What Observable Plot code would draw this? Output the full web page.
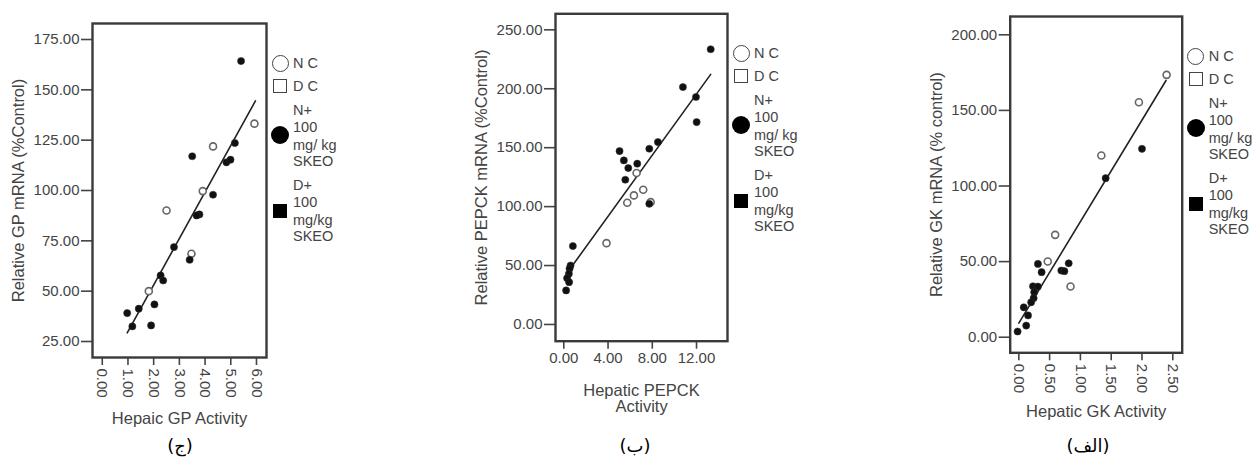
<!DOCTYPE html>
<html>
<head>
<meta charset="utf-8">
<script src="https://cdn.jsdelivr.net/npm/d3@7"></script>
<script src="https://cdn.jsdelivr.net/npm/@observablehq/plot@0.6"></script>
<style>
  html, body { margin: 0; padding: 0; background: #fff; }
  #root { position: relative; width: 1254px; height: 458px; overflow: hidden; font-family: "Liberation Sans", Arial, sans-serif; }
  .panel { position: absolute; top: 0; }
  .lg { position: absolute; color: #444; font-size: 14.5px; line-height: 17px; white-space: nowrap; }
  .sym { position: absolute; box-sizing: border-box; }
  .cap { position: absolute; font-family: "DejaVu Sans", sans-serif; font-size: 18px; color: #000; transform: translateX(-50%); white-space: nowrap; }
</style>
</head>
<body>
<div id="root"></div>
<script>
// ---------- Panel ج : GP ----------
const gpX    = [5.40, 5.92, 4.31, 3.50, 5.16, 4.83, 4.99, 3.91, 4.31, 2.50, 3.78, 3.67, 2.79, 3.47, 3.40, 2.27, 2.37, 1.81, 2.03, 1.42, 0.97, 1.17, 1.90];
const gpY    = [164.3, 133.2, 121.9, 117.0, 123.6, 114.0, 115.3, 99.7, 97.9, 90.1, 88.1, 87.6, 71.9, 68.6, 65.6, 57.8, 55.3, 50.0, 43.4, 41.3, 39.1, 32.5, 33.0];
const gpKind = ["f","o","o","f","f","f","f","o","f","o","f","f","f","o","f","f","f","o","f","f","f","f","f"];
const gpFitX = [0.97, 5.96];
const gpFitY = [29.3, 144.5];
const gpXTicks = [0, 1, 2, 3, 4, 5, 6];
const gpYTicks = [25, 50, 75, 100, 125, 150, 175];

// ---------- Panel ب : PEPCK ----------
const pepckX    = [13.28, 10.77, 11.95, 12.01, 8.51, 7.73, 5.04, 5.43, 5.83, 6.64, 6.58, 5.56, 7.18, 6.34, 5.74, 7.73, 7.85, 3.86, 0.82, 0.61, 0.52, 0.46, 0.30, 0.48, 0.21];
const pepckY    = [233.5, 201.4, 193.0, 171.7, 154.8, 149.1, 147.1, 139.2, 132.7, 136.4, 128.5, 122.8, 114.3, 109.5, 103.3, 102.4, 103.8, 69.0, 66.5, 50.0, 47.3, 43.0, 39.3, 35.9, 28.9];
const pepckKind = ["f","f","f","f","f","f","f","f","f","f","o","f","o","o","o","f","o","o","f","f","f","f","f","f","f"];
const pepckFitX = [0.9, 13.28];
const pepckFitY = [51.5, 212.2];
const pepckXTicks = [0, 4, 8, 12];
const pepckYTicks = [0, 50, 100, 150, 200, 250];

// ---------- Panel الف : GK ----------
const gkX    = [2.40, 1.95, 2.00, 1.34, 1.41, 0.59, 0.47, 0.31, 0.81, 0.69, 0.74, 0.37, 0.84, 0.23, 0.31, 0.25, 0.24, 0.20, 0.08, 0.15, 0.12, -0.02];
const gkY    = [173.5, 155.4, 124.6, 120.2, 105.2, 67.7, 50.1, 48.5, 48.9, 44.1, 43.7, 43.0, 33.5, 33.7, 33.5, 29.8, 25.8, 23.1, 19.8, 14.4, 7.7, 3.8];
const gkKind = ["o","o","f","o","f","o","o","f","f","f","f","f","o","f","f","f","f","f","f","f","f","f"];
const gkFitX = [0.0, 2.39];
const gkFitY = [9.3, 169.8];
const gkXTicks = [0, 0.5, 1, 1.5, 2, 2.5];
const gkYTicks = [0, 50, 100, 150, 200];

// ---------- Legend / captions ----------
const legendLines = [["N C"], ["D C"], ["N+", "100", "mg/ kg", "SKEO"], ["D+", "100", "mg/kg", "SKEO"]];
const captions = ["(ج)", "(ب)", "(الف)"];

const panels = [
  { left: 0, width: 280, mL: 92, mR: 14, mT: 23, mB: 63,
    xDomain: [-0.38, 6.39], yDomain: [17.05, 182.95],
    xs: gpX, ys: gpY, kinds: gpKind, fitX: gpFitX, fitY: gpFitY,
    xTicks: gpXTicks, yTicks: gpYTicks, rotate: 90,
    xLabel: "Hepaic GP Activity", yLabel: "Relative GP mRNA (%Control)",
    xLabelOffset: 66, yLabelOffset: 80, capX: 180, cap: captions[0] },
  { left: 470, width: 270, mL: 85, mR: 13, mT: 13.3, mB: 79.3,
    xDomain: [-0.75, 14.8], yDomain: [-14.2, 263.6],
    xs: pepckX, ys: pepckY, kinds: pepckKind, fitX: pepckFitX, fitY: pepckFitY,
    xTicks: pepckXTicks, yTicks: pepckYTicks, rotate: 0,
    xLabel: "Hepatic PEPCK\nActivity", yLabel: "Relative PEPCK mRNA (%Control)",
    xLabelOffset: 71, yLabelOffset: 80, capX: 635, cap: captions[1] },
  { left: 900, width: 292, mL: 109.7, mR: 10.3, mT: 16, mB: 67.7,
    xDomain: [-0.14, 2.653], yDomain: [-10.3, 212.1],
    xs: gkX, ys: gkY, kinds: gkKind, fitX: gkFitX, fitY: gkFitY,
    xTicks: gkXTicks, yTicks: gkYTicks, rotate: 90,
    xLabel: "Hepatic GK Activity", yLabel: "Relative GK mRNA (% control)",
    xLabelOffset: 64, yLabelOffset: 80, capX: 1088, cap: captions[2] }
];

const root = document.getElementById("root");
const fmt = d3.format(".2f");
const H = 420;

for (const p of panels) {
  const pts = p.xs.map((x, i) => ({ x, y: p.ys[i], kind: p.kinds[i] }));
  const fit = p.fitX.map((x, i) => ({ x, y: p.fitY[i] }));
  const chart = Plot.plot({
    width: p.width, height: H,
    marginLeft: p.mL, marginRight: p.mR, marginTop: p.mT, marginBottom: p.mB,
    style: { fontFamily: "'Liberation Sans', Arial, sans-serif", color: "#444", background: "white", overflow: "visible" },
    x: { domain: p.xDomain, labelArrow: "none" },
    y: { domain: p.yDomain, labelArrow: "none" },
    marks: [
      Plot.axisY({ ticks: p.yTicks, tickFormat: fmt, tickSize: 11, tickPadding: 2, fontSize: 15, label: null, strokeWidth: 1.6 }),
      Plot.axisY({ ticks: [], label: p.yLabel, labelArrow: "none", labelAnchor: "center", labelOffset: p.yLabelOffset, fontSize: 16.5 }),
      Plot.axisX({ ticks: p.xTicks, tickFormat: fmt, tickSize: 8, tickPadding: 3, tickRotate: p.rotate, fontSize: 15, label: null, strokeWidth: 1.6 }),
      Plot.axisX({ ticks: [], label: p.xLabel, labelArrow: "none", labelAnchor: "center", labelOffset: p.xLabelOffset, fontSize: 16.5 }),
      Plot.line(fit, { x: "x", y: "y", stroke: "#222", strokeWidth: 1.6 }),
      Plot.dot(pts.filter(d => d.kind === "o"), { x: "x", y: "y", r: 3.5, stroke: "#666", strokeWidth: 1.6, fill: "white" }),
      Plot.dot(pts.filter(d => d.kind === "f"), { x: "x", y: "y", r: 3.6, fill: "#111", stroke: "#333", strokeWidth: 0.5 }),
      Plot.frame({ stroke: "#3a3a3a", strokeWidth: 2.4 })
    ]
  });
  const wrap = document.createElement("div");
  wrap.className = "panel";
  wrap.style.left = p.left + "px";
  wrap.appendChild(chart);
  root.appendChild(wrap);

  // legend, anchored at frame's top-right corner
  const fr = p.left + p.width - p.mR;
  const ft = p.mT;
  const symX = fr + 14, txtX = fr + 27;
  const rowCenters = [[40], [63], [87, 104, 122, 138], [162, 179, 197, 213]];
  const symCenters = [40, 63, 112, 188];
  const syms = [
    { w: 17, round: true, fill: false },
    { w: 14, round: false, fill: false },
    { w: 18, round: true, fill: true },
    { w: 14, round: false, fill: true }
  ];
  legendLines.forEach((lines, gi) => {
    lines.forEach((t, li) => {
      const d = document.createElement("div");
      d.className = "lg";
      d.textContent = t;
      d.style.left = txtX + "px";
      d.style.top = (ft + rowCenters[gi][li] - 8.5) + "px";
      root.appendChild(d);
    });
    const s = syms[gi];
    const e = document.createElement("div");
    e.className = "sym";
    e.style.width = s.w + "px";
    e.style.height = s.w + "px";
    e.style.left = (symX - s.w / 2) + "px";
    e.style.top = (ft + symCenters[gi] - s.w / 2) + "px";
    e.style.borderRadius = s.round ? "50%" : "0";
    if (s.fill) { e.style.background = "#000"; }
    else { e.style.border = "1.6px solid #444"; e.style.background = "#fff"; }
    root.appendChild(e);
  });

  const c = document.createElement("div");
  c.className = "cap";
  c.textContent = p.cap;
  c.style.left = p.capX + "px";
  c.style.top = "435px";
  root.appendChild(c);
}
</script>
</body>
</html>
